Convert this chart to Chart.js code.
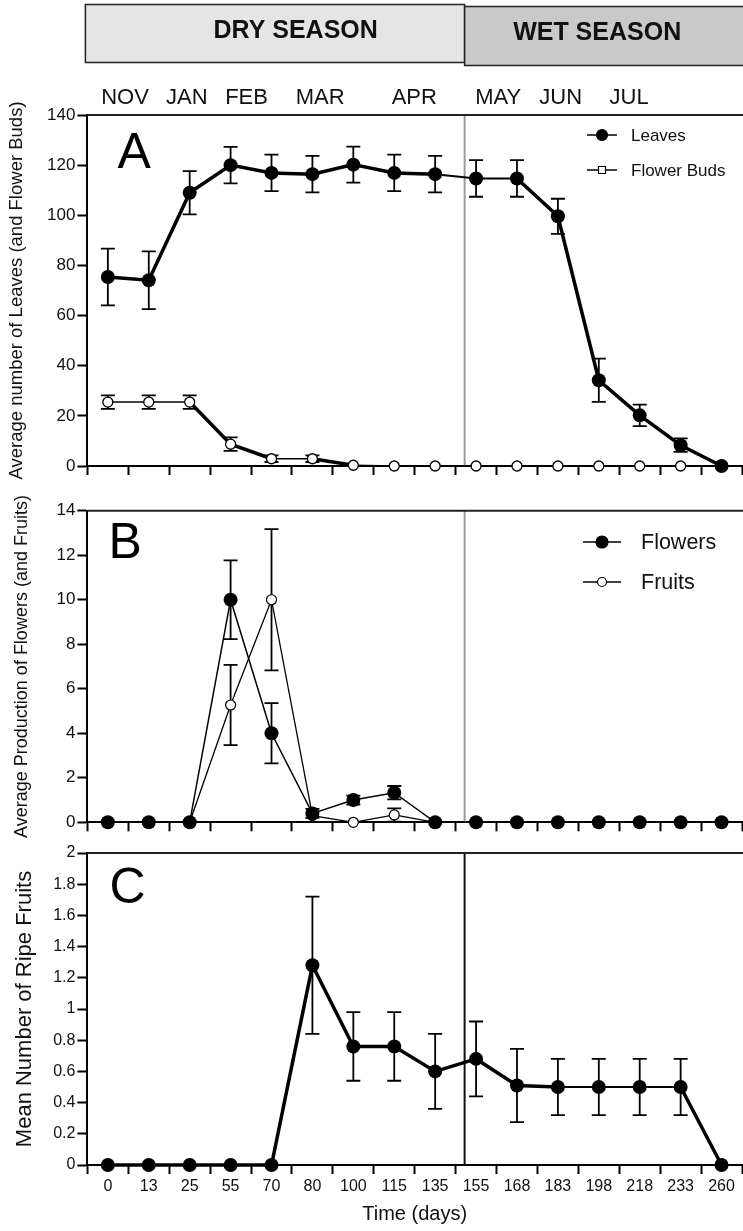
<!DOCTYPE html>
<html>
<head>
<meta charset="utf-8">
<script src="https://cdn.jsdelivr.net/npm/chart.js@4.4.1/dist/chart.umd.min.js"></script>
<style>
  html, body { margin: 0; padding: 0; background: #fff; width: 743px; height: 1231px; overflow: hidden; }
  canvas { display: block; }
</style>
</head>
<body>
<canvas id="chartA" width="749" height="480"></canvas>
<canvas id="chartB" width="749" height="360"></canvas>
<canvas id="chartC" width="749" height="391"></canvas>
<script>
// sampling days (category axis)
const days = ['0', '13', '25', '55', '70', '80', '100', '115', '135', '155', '168', '183', '198', '218', '233', '260'];

// panel A
const leaves    = [75.4, 74.1, 109, 120, 116.9, 116.4, 120.2, 116.9, 116.4, 114.7, 114.7, 99.6, 34.2, 20.2, 8.3, 0];
const leavesErr = [11.3, 11.5, 8.6, 7.3, 7.3, 7.3, 7.2, 7.3, 7.3, 7.3, 7.3, 7, 8.6, 4.3, 2.7, 0];
const buds      = [25.5, 25.5, 25.5, 8.7, 2.9, 2.9, 0.3, 0, 0, 0, 0, 0, 0, 0, 0, 0];
const budsErr   = [2.7, 2.7, 2.7, 2.7, 1.3, 1.3, 0, 0, 0, 0, 0, 0, 0, 0, 0, 0];

// panel B
const flowers    = [0, 0, 0, 10, 4, 0.4, 1, 1.33, 0, 0, 0, 0, 0, 0, 0, 0];
const flowersErr = [0, 0, 0, 1.77, 1.35, 0.2, 0.2, 0.3, 0, 0, 0, 0, 0, 0, 0, 0];
const fruits     = [0, 0, 0, 5.27, 10, 0.3, 0, 0.33, 0, 0, 0, 0, 0, 0, 0, 0];
const fruitsErr  = [0, 0, 0, 1.8, 3.17, 0, 0, 0.3, 0, 0, 0, 0, 0, 0, 0, 0];

// panel C
const ripe    = [0, 0, 0, 0, 0, 1.28, 0.76, 0.76, 0.6, 0.68, 0.51, 0.5, 0.5, 0.5, 0.5, 0];
const ripeErr = [0, 0, 0, 0, 0, 0.44, 0.22, 0.22, 0.24, 0.24, 0.235, 0.18, 0.18, 0.18, 0.18, 0];

// header labels, positions in category-index units
const months   = ['NOV', 'JAN', 'FEB', 'MAR', 'APR', 'MAY', 'JUN', 'JUL'];
const monthPos = [0.42, 1.93, 3.39, 5.19, 7.49, 9.54, 11.07, 12.74];
const seasons  = ['DRY SEASON', 'WET SEASON'];
const seasonPos = [4.59, 11.96];
const seasonSplit = 8.72;

const FONT = "'Liberation Sans', Arial, Helvetica, sans-serif";

function xScale(showLabels, height) {
  return {
    type: 'category',
    offset: true,
    grid: { offset: true, drawOnChartArea: false, tickLength: 9, tickWidth: 2, tickColor: '#000' },
    border: { color: '#000', width: 2 },
    ticks: { display: showLabels, color: '#111', font: { family: FONT, size: 16 }, padding: 3, autoSkip: false, maxRotation: 0 },
    title: { display: showLabels, text: 'Time (days)', color: '#111', font: { family: FONT, size: 20 }, padding: { top: 0, bottom: 5 } },
    afterFit(s) { s.height = height; }
  };
}

function yScale(min, max, step, title, tickSize, titleSize, titlePad) {
  return {
    min: min, max: max,
    grid: { drawOnChartArea: false, tickLength: 10, tickWidth: 2, tickColor: '#000' },
    border: { color: '#000', width: 2 },
    ticks: {
      stepSize: step, color: '#111', font: { family: FONT, size: tickSize }, padding: 2,
      callback: v => String(Number(v.toFixed(2)))
    },
    title: { display: true, text: title, color: '#111', font: { family: FONT, size: titleSize }, padding: { top: titlePad, bottom: 0 } },
    afterFit(s) { s.width = 87.4; }
  };
}

// vertical error bars, drawn under the markers
const errorBars = {
  id: 'errorBars',
  beforeDatasetsDraw(chart) {
    const { ctx } = chart;
    const y = chart.scales.y;
    chart.data.datasets.forEach((ds, i) => {
      if (!ds.errors) return;
      const meta = chart.getDatasetMeta(i);
      ctx.save();
      ctx.strokeStyle = '#000';
      ctx.lineWidth = 1.8;
      meta.data.forEach((pt, j) => {
        const e = ds.errors[j];
        if (!e) return;
        const v = ds.data[j];
        const t = y.getPixelForValue(v + e), b = y.getPixelForValue(v - e);
        const c = 7;
        ctx.beginPath();
        ctx.moveTo(pt.x, t); ctx.lineTo(pt.x, b);
        ctx.moveTo(pt.x - c, t); ctx.lineTo(pt.x + c, t);
        ctx.moveTo(pt.x - c, b); ctx.lineTo(pt.x + c, b);
        ctx.stroke();
      });
      ctx.restore();
    });
  }
};

// season divider, frame top, panel letter, header, legend
const deco = {
  id: 'deco',
  beforeDatasetsDraw(chart, args, o) {
    const { ctx, chartArea: a, scales: { x } } = chart;
    const sx = x.getPixelForValue(seasonSplit);
    ctx.save();
    ctx.strokeStyle = o.splitColor;
    ctx.lineWidth = 2;
    ctx.beginPath(); ctx.moveTo(sx, a.top); ctx.lineTo(sx, a.bottom); ctx.stroke();
    ctx.restore();
  },
  afterDraw(chart, args, o) {
    const { ctx, chartArea: a, scales: { x } } = chart;
    const sx = x.getPixelForValue(seasonSplit);
    ctx.save();
    ctx.strokeStyle = '#222';
    ctx.lineWidth = 2;
    ctx.beginPath(); ctx.moveTo(a.left, a.top); ctx.lineTo(chart.width, a.top); ctx.stroke();

    ctx.fillStyle = '#000';
    ctx.font = '50px ' + FONT;
    ctx.textAlign = 'left';
    ctx.textBaseline = 'alphabetic';
    ctx.fillText(o.letter, a.left + o.letterDx, a.top + o.letterDy);

    if (o.header) {
      const L = a.left - 2;
      ctx.lineWidth = 1.5;
      ctx.strokeStyle = '#222';
      ctx.fillStyle = '#e5e5e5';
      ctx.fillRect(L, 4.5, sx - L, 58);
      ctx.strokeRect(L, 4.5, sx - L, 58);
      ctx.fillStyle = '#c9c9c9';
      ctx.fillRect(sx, 6.5, chart.width - sx + 5, 59);
      ctx.strokeRect(sx, 6.5, chart.width - sx + 5, 59);
      ctx.fillStyle = '#111';
      ctx.textAlign = 'center';
      ctx.textBaseline = 'middle';
      ctx.font = 'bold 25px ' + FONT;
      seasons.forEach((s, i) => ctx.fillText(s, x.getPixelForValue(seasonPos[i]), i ? 33 : 31));
      ctx.font = '22px ' + FONT;
      months.forEach((m, i) => ctx.fillText(m, x.getPixelForValue(monthPos[i]), 98));
    }

    const lg = o.legend;
    if (lg) {
      chart.data.datasets.forEach((ds, i) => {
        const ly = lg.ys[i];
        const mx = (lg.x1 + lg.x2) / 2;
        ctx.strokeStyle = '#000';
        ctx.lineWidth = 1.5;
        ctx.beginPath(); ctx.moveTo(lg.x1, ly); ctx.lineTo(lg.x2, ly); ctx.stroke();
        ctx.fillStyle = ds.legendFill;
        ctx.beginPath();
        if (ds.legendStyle === 'rect') ctx.rect(mx - 3.5, ly - 3.5, 7, 7);
        else ctx.arc(mx, ly, ds.legendRadius, 0, Math.PI * 2);
        ctx.fill();
        ctx.lineWidth = 1.2;
        ctx.stroke();
        ctx.fillStyle = '#111';
        ctx.font = lg.size + 'px ' + FONT;
        ctx.textAlign = 'left';
        ctx.textBaseline = 'middle';
        ctx.fillText(ds.label, lg.textX, ly + 1);
      });
    }
    ctx.restore();
  }
};

function panel(id, datasets, y, x, pad, decoOpts) {
  return new Chart(document.getElementById(id), {
    type: 'line',
    data: { labels: days, datasets: datasets },
    options: {
      responsive: false,
      animation: false,
      events: [],
      layout: { padding: { top: pad, left: 0, right: 0, bottom: 0 } },
      scales: { x: x, y: y },
      plugins: { legend: { display: false }, tooltip: { enabled: false }, deco: decoOpts }
    },
    plugins: [errorBars, deco]
  });
}

const thinLeaves = [8, 9];
const thickBuds = [2, 3, 5];
const thinRipe = [11, 12, 13];

panel('chartA', [
  {
    label: 'Leaves', data: leaves, errors: leavesErr, order: 0, clip: false,
    borderColor: '#000', borderWidth: 3.5,
    segment: { borderWidth: c => thinLeaves.includes(c.p0DataIndex) ? 2 : 3.5 },
    pointRadius: 7, pointBackgroundColor: '#000', pointBorderWidth: 0,
    legendFill: '#000', legendRadius: 5.5
  },
  {
    label: 'Flower Buds', data: buds, errors: budsErr, order: 1, clip: false,
    borderColor: '#000', borderWidth: 1.6,
    segment: { borderWidth: c => thickBuds.includes(c.p0DataIndex) ? 3.5 : 1.6 },
    pointRadius: 5, pointBackgroundColor: '#fff', pointBorderColor: '#000', pointBorderWidth: 1.3,
    legendFill: '#fff', legendStyle: 'rect'
  }
], yScale(0, 140, 20, 'Average number of Leaves (and Flower Buds)', 17, 18.5, 6),
   xScale(false, 14), 115,
   { letter: 'A', letterDx: 30, letterDy: 53, splitColor: '#999', header: true,
     legend: { x1: 587, x2: 617, textX: 631, ys: [135, 170], size: 17 } });

panel('chartB', [
  {
    label: 'Flowers', data: flowers, errors: flowersErr, order: 0, clip: false,
    borderColor: '#000', borderWidth: 1.5,
    pointRadius: 7, pointBackgroundColor: '#000', pointBorderWidth: 0,
    legendFill: '#000', legendRadius: 6
  },
  {
    label: 'Fruits', data: fruits, errors: fruitsErr, order: 1, clip: false,
    borderColor: '#000', borderWidth: 1.3,
    pointRadius: 5, pointBackgroundColor: '#fff', pointBorderColor: '#000', pointBorderWidth: 1.2,
    legendFill: '#fff', legendRadius: 4.5
  }
], yScale(0, 14, 2, 'Average Production of Flowers (and Fruits)', 17, 18, 11),
   xScale(false, 17.7), 30.7,
   { letter: 'B', letterDx: 21, letterDy: 47, splitColor: '#999',
     legend: { x1: 583, x2: 621, textX: 641, ys: [62, 102], size: 21.5 } });

panel('chartC', [
  {
    label: 'Ripe Fruits', data: ripe, errors: ripeErr, clip: false,
    borderColor: '#000', borderWidth: 3.5,
    segment: { borderWidth: c => thinRipe.includes(c.p0DataIndex) ? 1.8 : 3.5 },
    pointRadius: 7, pointBackgroundColor: '#000', pointBorderWidth: 0
  }
], yScale(0, 2, 0.2, 'Mean Number of Ripe Fruits', 16, 22, 12),
   xScale(true, 66), 13,
   { letter: 'C', letterDx: 22, letterDy: 50, splitColor: '#111' });
</script>
</body>
</html>
